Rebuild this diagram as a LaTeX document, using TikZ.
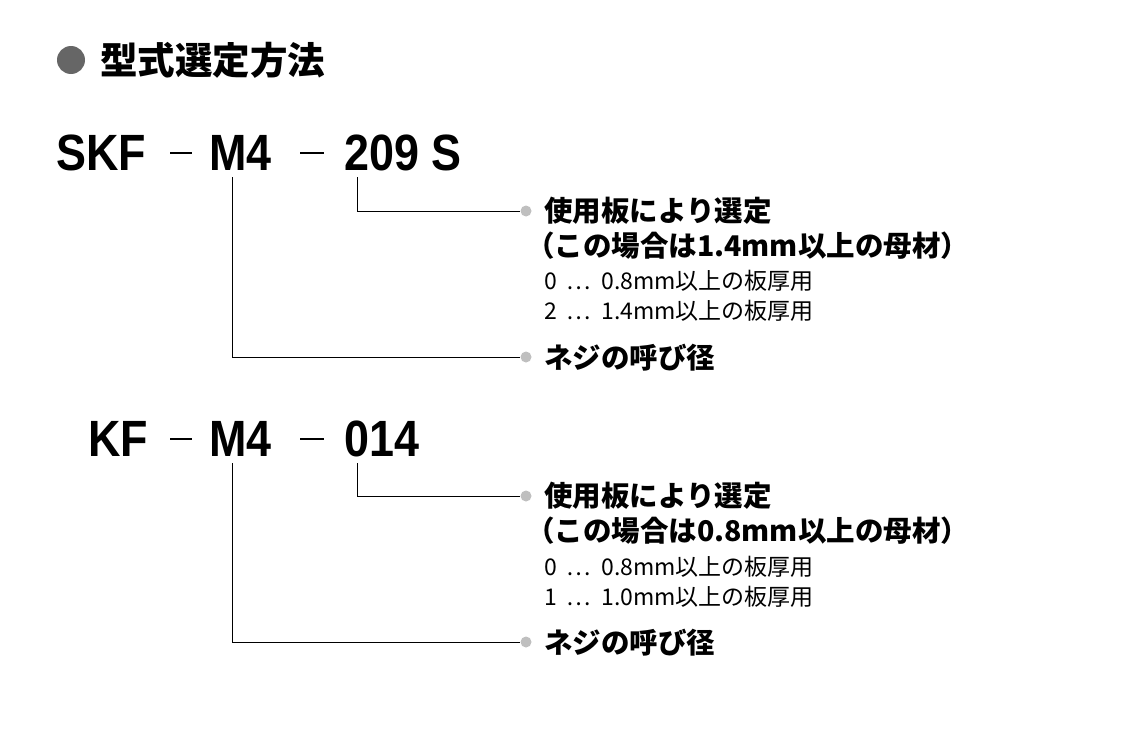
\documentclass[tikz,border=0pt]{standalone}
\usepackage{fontspec}
\setmainfont{Noto Sans CJK JP}
\newfontfamily\cond[FakeStretch=0.88]{Liberation Sans}
\newcommand{\dts}{\hspace{10pt}⋯\hspace{10pt}}
\begin{document}
\begin{tikzpicture}[x=1pt,y=-1pt,
 big/.style={anchor=base west,inner sep=0,font=\cond\bfseries\fontsize{51}{51}\selectfont},
 bt/.style={anchor=west,inner sep=0,font=\bfseries\fontsize{28.5}{28.5}\selectfont},
 rt/.style={anchor=west,inner sep=0,font=\fontsize{23}{23}\selectfont},
 dsh/.style={line width=1.6pt},
 ln/.style={line width=1pt},
 dot/.style={circle,fill=black!25,inner sep=0,minimum size=11pt}]
\useasboundingbox (0,0) rectangle (1145,728);
\node[circle,fill=black!60,inner sep=0,minimum size=28pt] (c) at (71,60) {};
\node[anchor=west,inner sep=0,font=\bfseries\fontsize{37.5}{37.5}\selectfont] (t) at (100,60) {型式選定方法};
% block 1
\node[big] (a1) at (56,170) {SKF};
\draw[dsh] (170,153) -- (192,153);
\node[big] (b1) at (209,170) {M4};
\draw[dsh] (300,153) -- (324,153);
\node[big] (c1) at (344,170) {209 S};
\node[dot] (d1) at (526,211) {};
\node[dot] (e1) at (526,357) {};
\draw[ln] (357,177) |- (d1.west);
\draw[ln] (232,177) |- (e1.west);
\node[bt] at (544,211) {使用板により選定};
\node[bt] at (526,246) {（この場合は1.4mm以上の母材）};
\node[rt] at (544,281) {0\dts 0.8mm以上の板厚用};
\node[rt] at (544,311) {2\dts 1.4mm以上の板厚用};
\node[bt] at (544,358) {ネジの呼び径};
% block 2
\node[big] (a2) at (88,456) {KF};
\draw[dsh] (170,439) -- (192,439);
\node[big] (b2) at (209,456) {M4};
\draw[dsh] (300,439) -- (324,439);
\node[big] (c2) at (344,456) {014};
\node[dot] (d2) at (526,496) {};
\node[dot] (e2) at (526,642) {};
\draw[ln] (357,463) |- (d2.west);
\draw[ln] (232,463) |- (e2.west);
\node[bt] at (544,496) {使用板により選定};
\node[bt] at (526,531) {（この場合は0.8mm以上の母材）};
\node[rt] at (544,567) {0\dts 0.8mm以上の板厚用};
\node[rt] at (544,597) {1\dts 1.0mm以上の板厚用};
\node[bt] at (544,643) {ネジの呼び径};
\end{tikzpicture}
\end{document}
